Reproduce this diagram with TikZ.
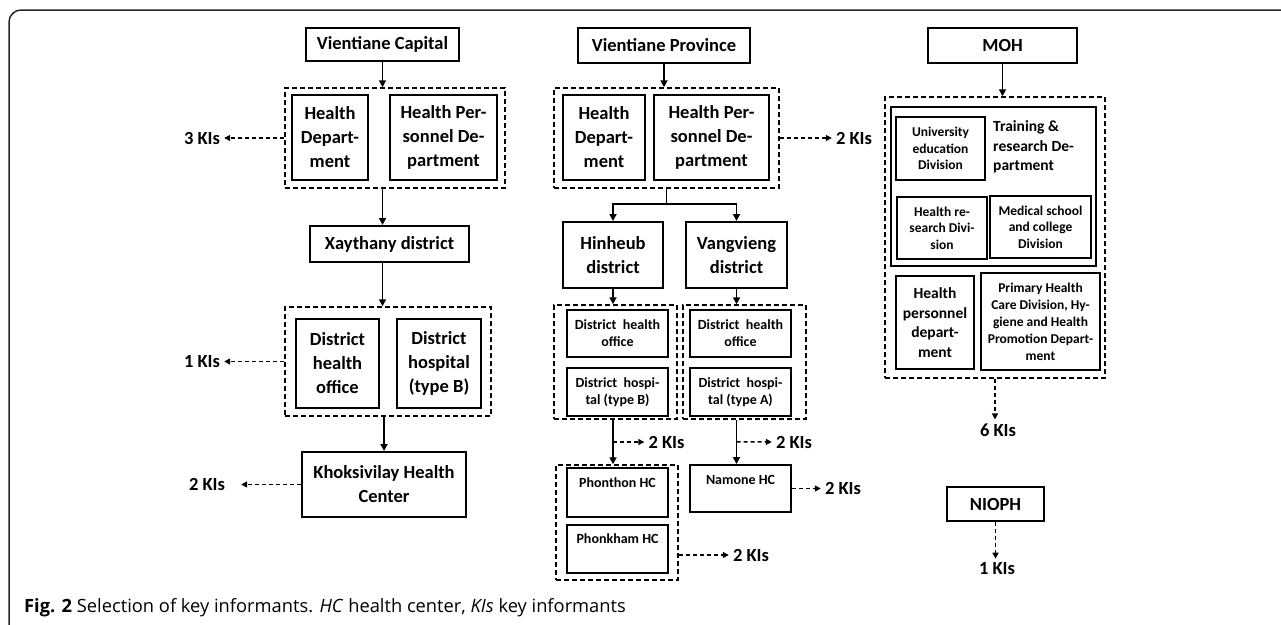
\documentclass[tikz,border=0pt]{standalone}
\usepackage{fontspec}
\setmainfont{Carlito}
\newfontfamily\capfont{Open Sans}
\usetikzlibrary{arrows.meta,calc,positioning}

\begin{document}
\begin{tikzpicture}[x=1pt,y=-1pt,
    dims/.style 2 args={minimum width=#1pt,minimum height=#2pt},
    box/.style={draw,line width=2pt,align=center,inner sep=0pt,font=\bfseries\fontsize{18.5}{24}\selectfont},
    smallbox/.style={box,font=\bfseries\fontsize{14}{17}\selectfont},
    tinybox/.style={box,font=\bfseries\fontsize{13.5}{16.5}\selectfont},
    group/.style={draw,dash pattern=on 5pt off 3pt,line width=1.5pt,inner sep=0pt},
    kis/.style={font=\bfseries\fontsize{18.5}{22}\selectfont,inner sep=4pt},
    flow/.style={line width=1.8pt,-{Triangle[length=7pt,width=7pt]}},
    kiflow/.style={line width=1.4pt,dash pattern=on 4pt off 3pt,-{Triangle[length=6pt,width=6pt]}}]
  \useasboundingbox (0,0) rectangle (1281,624);
  \begin{scope}
    \clip (0,0) rectangle (1281,624);
    \draw[line width=1.5pt,rounded corners=12pt,black!85] (9,10) rectangle (1300,640);
  \end{scope}

  % Vientiane Capital
  \node[box,dims={153}{33}] (vc) at (382.5,44.5) {Vientiane Capital};
  \node[group,dims={220}{100}] (vcgrp) at (395,138) {};
  \node[box,dims={76}{85}] (vchd) at (330,137.5) {Health\\Depart-\\ment};
  \node[box,dims={107}{85}] (vchpd) at (443.5,137.5) {Health Per-\\sonnel De-\\partment};
  \node[kis] (vcki) at (202,138) {3 KIs};
  \node[box,dims={159}{36}] (xd) at (389.5,244) {Xaythany district};
  \node[group,dims={206}{109}] (xdgrp) at (388,361.5) {};
  \node[box,dims={83}{89}] (xdho) at (337.5,363.5) {District\\health\\office};
  \node[box,dims={84}{89}] (xdhosp) at (439,363.5) {District\\hospital\\(type B)};
  \node[kis] (xdki) at (202,361.5) {1 KIs};
  \node[box,dims={164}{65}] (khc) at (384,484.5) {Khoksivilay Health\\Center};
  \node[kis] (khcki) at (207,484.5) {2 KIs};

  \draw[flow] (vc) -- (vc |- vcgrp.north);
  \draw[flow] (vcgrp.south -| vc) -- (xd.north -| vc);
  \draw[flow] (xd.south -| vc) -- (xdgrp.north -| vc);
  \draw[flow] (xdgrp.south -| khc) -- (khc);
  \draw[kiflow] (vcgrp.west) -- (vcki);
  \draw[kiflow] (xdgrp.west) -- (xdki);
  \draw[kiflow] (khc.west) -- ([xshift=12pt]khcki.east);

  % Vientiane Province
  \node[box,dims={172}{35}] (vp) at (664,45.5) {Vientiane Province};
  \node[group,dims={225}{100}] (vpgrp) at (666.5,138) {};
  \node[box,dims={82}{85}] (vphd) at (604,137.5) {Health\\Depart-\\ment};
  \node[box,dims={115}{85}] (vphpd) at (711.5,137.5) {Health Per-\\sonnel De-\\partment};
  \node[kis] (vpki) at (854,138) {2 KIs};
  \node[box,dims={100}{66}] (hd) at (613,255) {Hinheub\\district};
  \node[box,dims={101}{66}] (vd) at (736.5,255) {Vangvieng\\district};
  \node[group,dims={123}{114}] (hgrp) at (615.5,362) {};
  \node[smallbox,dims={101}{47}] (hho) at (617.5,333.5) {District~ health\\office};
  \node[smallbox,dims={101}{48}] (hhosp) at (617.5,392) {District~ hospi-\\tal (type B)};
  \node[group,dims={123}{114}] (vgrp) at (744.5,362) {};
  \node[smallbox,dims={101}{47}] (vho) at (740.5,333.5) {District~ health\\office};
  \node[smallbox,dims={101}{48}] (vhosp) at (740.5,392) {District~ hospi-\\tal (type A)};
  \node[group,dims={122}{115}] (pgrp) at (617,522.5) {};
  \node[smallbox,minimum width=101pt,text height=19.5pt,text depth=29.5pt] (pth) at (617.5,492.5) {Phonthon HC};
  \node[smallbox,minimum width=101pt,text height=18.5pt,text depth=29.5pt] (pkh) at (617.5,549) {Phonkham HC};
  \node[smallbox,minimum width=101pt,text height=19.5pt,text depth=27.5pt] (nmn) at (740.5,488.5) {Namone HC};
  \node[kis] (hki) at (666.5,442) {2 KIs};
  \node[kis] (vki) at (794,442) {2 KIs};
  \node[kis] (nmki) at (843,488.5) {2 KIs};
  \node[kis] (pkki) at (751,555) {2 KIs};

  \draw[flow] (vp) -- (vp |- vpgrp.north);
  \draw[kiflow] (vpgrp.east) -- (vpki);
  \coordinate (br) at ($(vpgrp.south)+(0,15)$);
  \draw[line width=1.8pt] (vpgrp.south) -- (br);
  \draw[flow] (br) -| (hd.north);
  \draw[flow] (br) -| (vd.north);
  \draw[flow] (hd) -- (hd |- hgrp.north);
  \draw[flow] (vd) -- (vd |- vgrp.north);
  \draw[flow] (hgrp.south -| hd) -- (pgrp.north -| hd);
  \coordinate (hmid) at ($(hgrp.south -| hd)!0.5!(pgrp.north -| hd)$);
  \draw[kiflow] (hmid) -- (hki);
  \draw[flow] (vgrp.south -| vd) -- (nmn.north -| vd);
  \coordinate (vmid) at ($(vgrp.south -| vd)!0.5!(nmn.north -| vd)$);
  \draw[kiflow] (vmid) -- (vki);
  \draw[kiflow] (nmn.east) -- (nmki);
  \draw[kiflow] (pgrp.east |- pkki) -- (pkki);

  % MOH
  \node[box,dims={149}{35}] (moh) at (1002.5,45.5) {MOH};
  \node[group,dims={220}{281}] (mohgrp) at (995,237.5) {};
  \node[draw,line width=1.3pt,dims={205}{159}] (trd) at (993.5,186.5) {};
  \node[tinybox,dims={89}{63}] (ued) at (940.5,148.5) {University\\education\\Division};
  \node[anchor=west,align=left,inner sep=0pt,font=\bfseries\fontsize{15.5}{19.5}\selectfont] (trdlbl) at (993,147) {Training \&\\research De-\\partment};
  \node[tinybox,dims={90}{62}] (hrd) at (942,228) {Health re-\\search Divi-\\sion};
  \node[tinybox,dims={101}{62}] (msd) at (1040.5,227) {Medical school\\and college\\Division};
  \node[box,font=\bfseries\fontsize{15.5}{19.5}\selectfont,dims={78}{93}] (hpd) at (935,322.5) {Health\\personnel\\depart-\\ment};
  \node[tinybox,font=\bfseries\fontsize{13.5}{17}\selectfont,dims={119}{97}] (phc) at (1040.5,321.5) {Primary Health\\Care Division, Hy-\\giene and Health\\Promotion Depart-\\ment};
  \node[kis] (mohki) at (998,430) {6 KIs};
  \node[box,dims={97}{34}] (nioph) at (995.5,504) {NIOPH};
  \node[kis] (niophki) at (997,569) {1 KIs};

  \draw[flow] (moh) -- (moh |- mohgrp.north);
  \draw[kiflow] (mohgrp.south) -- (mohgrp.south |- mohki.north);
  \draw[kiflow] (nioph) -- (nioph |- niophki.north);

  \node[anchor=base west,inner sep=0pt,font=\capfont\fontsize{18.3}{21}\selectfont] (cap) at (24,612)
    {\textbf{Fig. 2} Selection of key informants. \textit{HC} health center, \textit{KIs} key informants};
\end{tikzpicture}
\end{document}
